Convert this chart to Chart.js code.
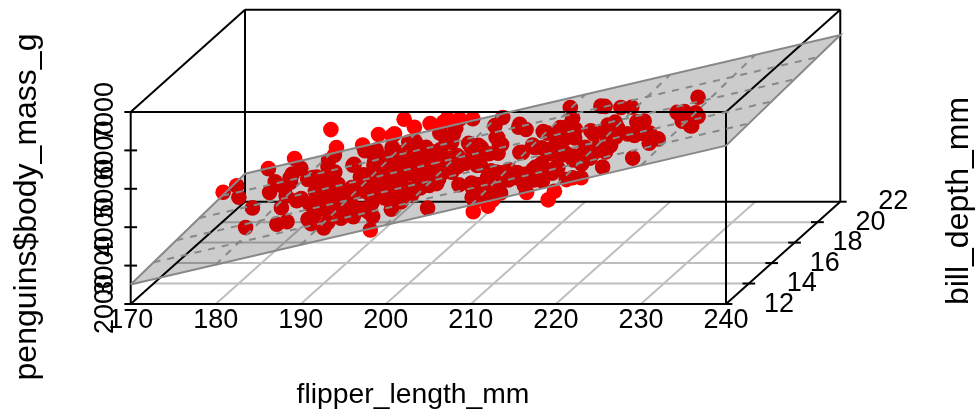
<!DOCTYPE html>
<html>
<head>
<meta charset="utf-8">
<style>
  html, body { margin: 0; padding: 0; background: #fff; }
  #wrap { width: 975px; height: 413px; }
</style>
<script src="https://cdn.jsdelivr.net/npm/chart.js@4/dist/chart.umd.min.js"></script>
</head>
<body>
<div id="wrap"><canvas id="chart"></canvas></div>
<script>
// adelie, then chinstrap, then gentoo
const flipperLength = [
  181,186,195,193,190,181,195,193,190,186,
  180,182,191,198,185,195,197,184,194,174,
  180,189,185,180,187,183,187,172,180,178,
  178,188,184,195,196,190,180,181,184,182,
  195,186,196,185,190,182,179,190,191,186,
  188,190,200,187,191,186,193,181,194,185,
  195,185,192,184,192,195,188,190,198,190,
  190,196,197,190,195,191,184,187,195,189,
  196,187,193,191,194,190,189,189,190,202,
  205,185,186,187,208,190,196,178,192,192,
  203,183,190,193,184,199,190,181,197,198,
  191,193,197,191,196,188,199,189,189,187,
  198,176,202,186,199,191,195,191,210,190,
  197,193,199,187,190,191,200,185,193,193,
  187,188,190,192,185,190,184,195,193,187,
  201,
  192,196,193,188,197,198,178,197,195,198,
  193,194,185,201,190,201,197,181,190,195,
  181,191,187,193,195,197,200,200,191,205,
  187,201,187,203,195,199,195,210,192,205,
  210,187,196,196,196,201,190,212,187,198,
  199,201,193,203,187,197,191,203,202,194,
  206,189,195,207,202,193,210,198,
  211,230,210,218,215,210,211,219,209,215,
  214,216,214,213,210,217,210,221,209,222,
  218,215,213,215,215,215,216,215,210,220,
  222,209,207,230,220,220,213,219,208,208,
  208,225,210,216,222,217,210,225,213,215,
  210,220,210,225,217,220,208,220,208,224,
  208,221,214,231,219,230,214,229,220,223,
  216,221,221,217,216,230,209,220,215,223,
  212,221,212,224,212,228,218,218,212,230,
  218,228,212,224,214,226,216,222,203,225,
  219,228,215,228,216,215,210,219,208,209,
  216,229,213,230,217,230,217,222,214,215,
  222,212,213
];
const billDepth = [
  18.7,17.4,18.0,19.3,20.6,17.8,19.6,18.1,20.2,17.1,
  17.3,17.6,21.2,21.1,17.8,19.0,20.7,18.4,21.5,18.3,
  18.7,19.2,18.1,17.2,18.9,18.6,17.9,18.6,18.9,16.7,
  18.1,17.8,18.9,17.0,21.1,20.0,18.5,19.3,19.1,18.0,
  18.4,18.5,19.7,16.9,18.8,19.0,18.9,17.9,21.2,17.7,
  18.9,17.9,19.5,18.1,18.6,17.5,18.8,16.6,19.1,16.9,
  21.1,17.0,18.2,17.1,18.0,16.2,19.1,16.6,19.4,19.0,
  18.4,17.2,18.9,17.5,18.5,16.8,19.4,16.1,19.1,17.2,
  17.6,18.8,19.4,17.8,20.3,19.5,18.6,19.2,18.8,18.0,
  18.1,17.1,18.1,17.3,18.9,18.6,18.5,16.1,18.5,17.9,
  20.0,16.0,20.0,18.6,18.9,17.2,20.0,17.0,19.0,16.5,
  20.3,17.7,19.5,20.7,18.3,17.0,20.5,17.0,18.6,17.2,
  19.8,17.0,18.5,15.9,19.0,17.6,18.3,17.1,18.0,17.9,
  19.2,18.5,18.5,17.6,17.5,17.5,20.1,16.5,17.9,17.1,
  17.2,15.5,17.0,16.8,18.7,18.6,18.4,17.8,18.1,17.1,
  18.5,
  17.9,19.5,19.2,18.7,19.8,17.8,18.2,18.2,18.9,19.9,
  17.8,20.3,17.3,18.1,17.1,19.6,20.0,17.8,18.6,18.2,
  17.3,17.5,16.6,19.4,17.9,19.0,18.4,19.0,17.8,20.0,
  16.6,20.8,16.7,18.8,18.6,16.8,18.3,20.7,16.6,19.9,
  19.5,17.5,19.1,17.0,17.9,18.5,17.9,19.6,18.7,17.3,
  16.4,19.0,17.3,19.7,17.3,18.8,16.6,19.9,18.8,19.4,
  19.5,16.5,17.0,19.8,18.1,18.2,19.0,18.7,
  13.2,16.3,14.1,15.2,14.5,13.5,14.6,15.3,13.4,15.4,
  13.7,16.1,13.7,14.6,14.6,15.7,13.5,15.2,14.5,15.1,
  14.3,14.5,14.5,15.8,13.1,15.1,14.3,15.0,14.3,15.3,
  15.3,14.2,14.5,17.0,14.8,16.3,13.7,17.3,13.6,15.7,
  13.7,16.0,13.7,15.0,15.9,13.9,13.9,15.9,13.3,15.8,
  14.2,14.1,14.4,15.0,14.4,15.4,13.9,15.0,14.5,15.3,
  13.8,14.9,13.9,15.7,14.2,16.8,14.4,16.2,14.2,15.0,
  15.0,15.6,15.6,14.8,15.0,16.0,14.2,16.3,13.8,16.4,
  14.5,15.6,14.6,15.9,13.8,17.3,14.4,14.2,14.0,17.0,
  15.0,17.1,14.5,16.1,14.7,15.7,15.8,14.6,14.4,16.5,
  15.0,17.0,15.5,15.0,13.8,16.1,14.7,15.8,14.0,15.1,
  15.2,15.9,15.2,16.3,14.1,16.0,15.7,16.2,13.7,14.3,
  15.7,14.8,16.1
];
const bodyMass = [
  3750,3800,3250,3450,3650,3625,4675,3475,4250,3300,
  3700,3200,3800,4400,3700,3450,4500,3325,4200,3400,
  3600,3800,3950,3800,3800,3550,3200,3150,3950,3250,
  3900,3300,3900,3325,4150,3950,3550,3300,4650,3150,
  3900,3100,4400,3000,4600,3425,2975,3450,4150,3500,
  4300,3450,4050,2900,3700,3550,3800,2850,3750,3150,
  4400,3600,4050,2850,3950,3350,4100,3050,4450,3600,
  3900,3550,4150,3700,4250,3700,3900,3550,4000,3200,
  4700,3800,4200,3350,3550,3800,3500,3950,3600,3550,
  4300,3400,4450,3300,4300,3700,4350,2900,4100,3725,
  4725,3075,4250,2925,3550,3750,3900,3175,4775,3825,
  4600,3200,4275,3900,4075,2900,3775,3350,3325,3150,
  3500,3450,3875,3050,4000,3275,4300,3050,4000,3325,
  3500,3500,4475,3425,3900,3175,3975,3400,4250,3400,
  3475,3050,3725,3000,3650,4250,3475,3450,3750,3700,
  4000,
  3500,3900,3650,3525,3725,3950,3250,3750,4150,3700,
  3800,3775,3700,4050,3575,4050,3300,3700,3450,4400,
  3600,3400,2900,3800,3300,4150,3400,3800,3700,4550,
  3200,4300,3350,4100,3600,3900,3850,4800,2700,4500,
  3950,3650,3550,3500,3675,4450,3400,4300,3250,3675,
  3325,3950,3600,4050,3350,3450,3250,4050,3800,3525,
  3950,3650,3650,4000,3400,3775,4100,3775,
  4500,5700,4450,5700,5400,4550,4800,5200,4400,5150,
  4650,5550,4650,5850,4200,5850,4150,6300,4800,5350,
  5700,5000,4400,5050,5000,5100,4100,5650,4600,5550,
  5250,4700,5050,6050,5150,5400,4950,5250,4350,5350,
  3950,5700,4300,4750,5550,4900,4200,5400,5100,5300,
  4850,5300,4400,5000,4900,5050,4300,5000,4450,5550,
  4200,5300,4400,5650,4700,5700,4650,5800,4700,5550,
  4750,5000,5100,5200,4700,5800,4600,6000,4750,5950,
  4625,5450,4725,5350,4750,5600,4600,5300,4875,5550,
  4950,5400,4750,5650,4850,5200,4925,4875,4625,5250,
  4850,5600,4975,5500,4725,5500,4700,5500,4575,5500,
  5000,5950,4650,5500,4375,5850,4875,6000,4925,4850,
  5750,5200,5400
];

const flipperTicks = [170,180,190,200,210,220,230,240];
const depthTicks = [12,14,16,18,20,22];
const massTicks = [2000,3000,4000,5000,6000,7000];
// body mass = a + b * flipper + c * depth
const planeCoef = [-6533, 51.63, 22];

// oblique projection: depth slides a point right and up
const xPerDepth = 1.344;
const yPerDepth = 266.4;
const fmin = flipperTicks[0], fmax = flipperTicks[flipperTicks.length-1];
const dmin = depthTicks[0], dmax = depthTicks[depthTicks.length-1];
const mmin = massTicks[0], mmax = massTicks[massTicks.length-1];

function proj(f, d, m) {
  return {x: f + (d-dmin)*xPerDepth, y: m + (d-dmin)*yPerDepth};
}
function planeAt(f, d) {
  return proj(f, d, planeCoef[0] + planeCoef[1]*f + planeCoef[2]*d);
}
function seg(pts, color, width, order, dash) {
  return {type:'line', data:pts, borderColor:color, borderWidth:width, borderDash:dash || [],
    pointRadius:0, fill:false, tension:0, order:order, clip:false};
}

const datasets = [];

// floor grid
flipperTicks.slice(1,-1).forEach(f => datasets.push(seg([proj(f,dmin,mmin),proj(f,dmax,mmin)],'#bebebe',2,50)));
depthTicks.slice(1,-1).forEach(d => datasets.push(seg([proj(fmin,d,mmin),proj(fmax,d,mmin)],'#bebebe',2,50)));

// back of the box
[[[fmin,dmax,mmin],[fmax,dmax,mmin]],
 [[fmin,dmax,mmin],[fmin,dmax,mmax]],
 [[fmax,dmax,mmin],[fmax,dmax,mmax]],
 [[fmin,dmax,mmax],[fmax,dmax,mmax]],
 [[fmin,dmin,mmin],[fmin,dmax,mmin]],
 [[fmin,dmin,mmax],[fmin,dmax,mmax]],
 [[fmax,dmin,mmax],[fmax,dmax,mmax]],
 [[fmax,dmin,mmin],[fmax,dmax,mmin]]
].forEach(l => datasets.push(seg(l.map(p => proj(p[0],p[1],p[2])),'#000',2,40)));

// points
datasets.push({type:'scatter', label:'penguins',
  data: flipperLength.map((f,i) => proj(f, billDepth[i], bodyMass[i])),
  backgroundColor:'#ff0000', borderWidth:0, pointRadius:7.8, order:30, clip:false});

// front of the box
[[[fmin,dmin,mmin],[fmax,dmin,mmin]],
 [[fmin,dmin,mmax],[fmax,dmin,mmax]],
 [[fmin,dmin,mmin],[fmin,dmin,mmax]],
 [[fmax,dmin,mmin],[fmax,dmin,mmax]]
].forEach(l => datasets.push(seg(l.map(p => proj(p[0],p[1],p[2])),'#000',2,20)));

// mass ticks on the left edge
massTicks.forEach(m => datasets.push(seg([proj(fmin-0.75,dmin,m),proj(fmin+0.75,dmin,m)],'#000',2,20)));
// depth ticks along the floor edge
depthTicks.forEach((d,i) => {
  const a = proj(fmax,d,mmin);
  const left = (i==0 || i==depthTicks.length-1) ? 0 : 0.75;
  datasets.push(seg([{x:a.x-left,y:a.y},{x:a.x+0.75,y:a.y}],'#000',2,20));
});

// regression plane, drawn over everything
datasets.push({type:'line', label:'plane',
  data:[planeAt(fmin,dmin),planeAt(fmax,dmin),planeAt(fmax,dmax),planeAt(fmin,dmax),planeAt(fmin,dmin)],
  borderColor:'#888888', borderWidth:2, backgroundColor:'rgba(0,0,0,0.2)', fill:'shape',
  pointRadius:0, tension:0, order:10, clip:false});
flipperTicks.slice(1,-1).forEach(f => datasets.push(seg([planeAt(f,dmin),planeAt(f,dmax)],'#888888',2,5,[7,7])));
depthTicks.slice(1,-1).forEach(d => datasets.push(seg([planeAt(fmin,d),planeAt(fmax,d)],'#888888',2,5,[7,7])));

// all text sits outside the usual axis spots so it goes in by hand
const labelsPlugin = {
  id:'labels3d',
  afterDraw(chart) {
    const c = chart.ctx, xs = chart.scales.x, ys = chart.scales.y;
    c.save();
    c.fillStyle = '#000';
    c.textAlign = 'center';
    c.textBaseline = 'alphabetic';
    c.font = '27px "Liberation Sans"';
    flipperTicks.forEach(f => c.fillText(String(f), xs.getPixelForValue(f), 327.5));
    depthTicks.forEach(d => {
      const a = proj(fmax,d,mmin);
      c.fillText(String(d), xs.getPixelForValue(a.x)+53, ys.getPixelForValue(a.y)+7.5);
    });
    massTicks.forEach(m => {
      c.save();
      c.translate(112.5, ys.getPixelForValue(m));
      c.rotate(-Math.PI/2);
      c.fillText(String(m), 0, 0);
      c.restore();
    });
    c.font = '28.3px "Liberation Sans"';
    c.fillText('flipper_length_mm', 413, 403);
    [['penguins$body_mass_g',35.5,207],['bill_depth_mm',968,201]].forEach(t => {
      c.save();
      c.translate(t[1], t[2]);
      c.rotate(-Math.PI/2);
      c.font = '32px "Liberation Sans"';
      c.fillText(t[0], 0, 0);
      c.restore();
    });
    c.restore();
  }
};

new Chart(document.querySelector('#chart').getContext('2d'), {
  data:{datasets:datasets},
  options:{
    responsive:true,
    maintainAspectRatio:false,
    animation:false,
    layout:{padding:{left:130.7,right:135.5,top:9.5,bottom:109}},
    scales:{
      x:{type:'linear',min:170,max:253.35,display:false},
      y:{type:'linear',min:2000,max:9669,display:false}
    },
    plugins:{legend:{display:false},tooltip:{enabled:false}}
  },
  plugins:[labelsPlugin]
});
</script>
</body>
</html>
